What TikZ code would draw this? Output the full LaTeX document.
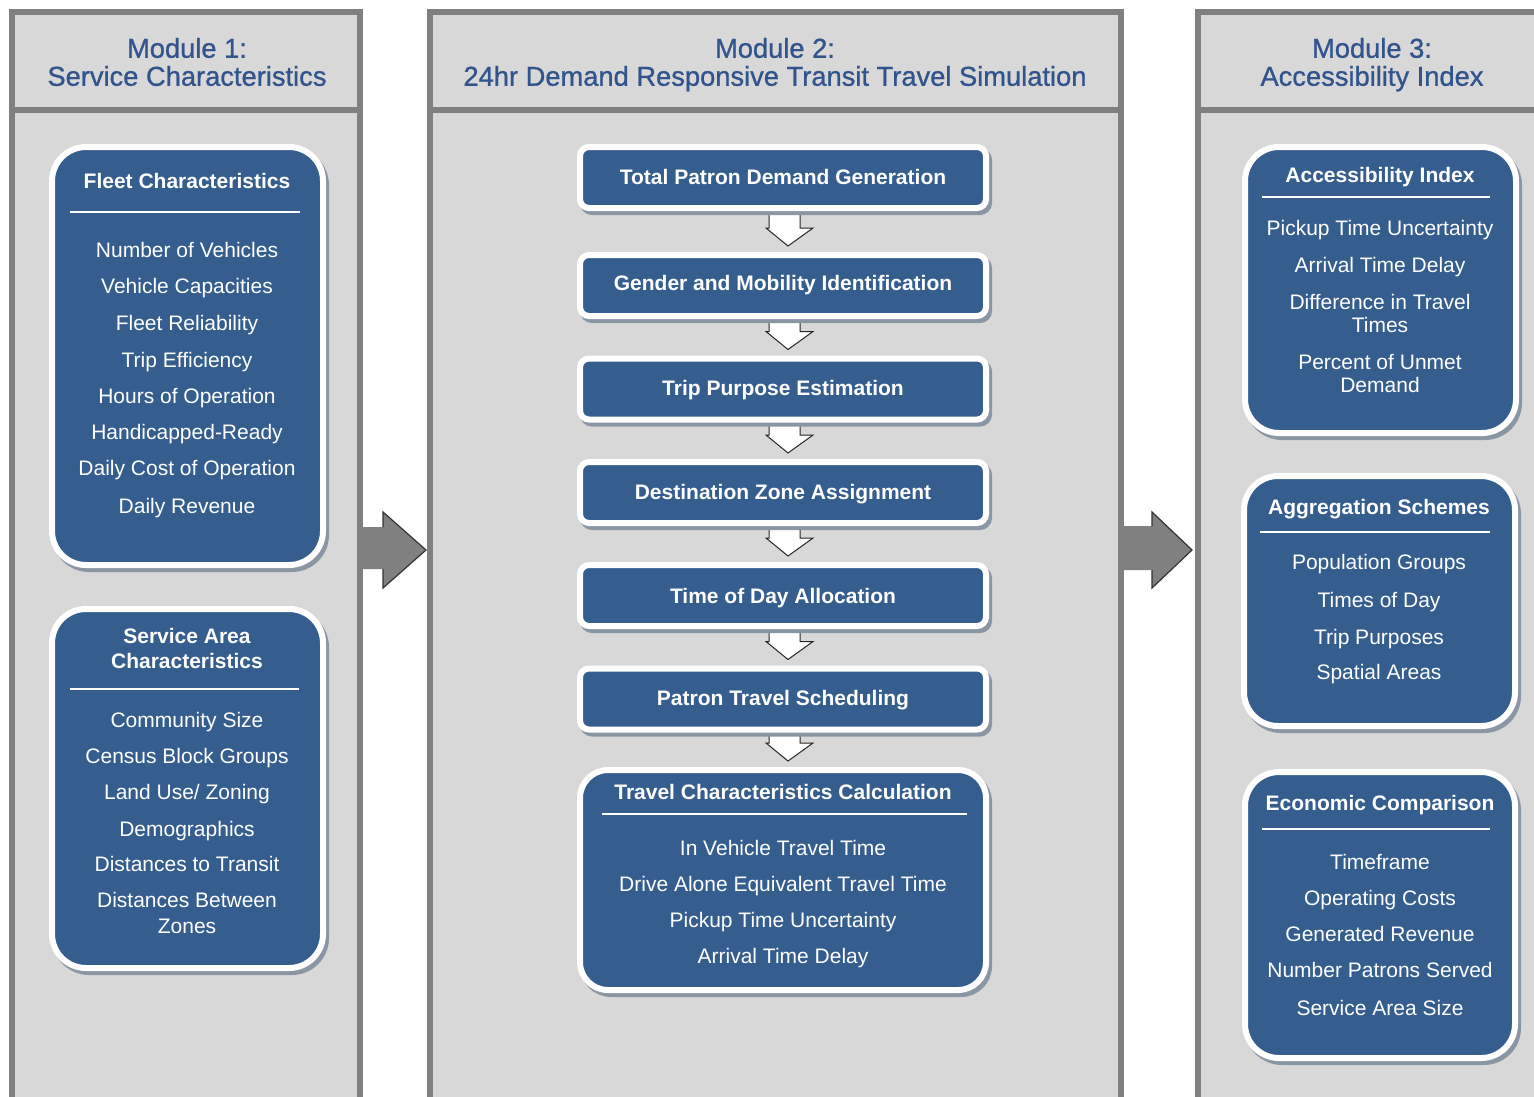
\documentclass[tikz,border=0pt]{standalone}
\usepackage{fontspec}
\setmainfont{Liberation Sans}
\newfontfamily\hdfont[FakeBold=0.9]{Liberation Sans}
\usetikzlibrary{calc}
\definecolor{boxblue}{RGB}{53,94,143}
\definecolor{hdblue}{RGB}{50,84,140}
\definecolor{panelfill}{RGB}{216,216,216}
\definecolor{panelline}{RGB}{128,128,128}
\definecolor{shadowc}{RGB}{138,150,164}
\definecolor{bigarrowc}{RGB}{128,128,128}
\pgfdeclarelayer{back}
\pgfdeclarelayer{mid}
\pgfsetlayers{back,mid,main}
\tikzset{
  panel/.style={draw=panelline, line width=6pt, fill=panelfill},
  hdtxt/.style={text=hdblue, font=\hdfont\fontsize{27.3}{31}\selectfont, inner sep=0pt, text height=19.5pt, text depth=0pt},
  bluebox/.style={rectangle, fill=boxblue, draw=white, line width=6pt, inner sep=0pt, outer sep=0pt,
    preaction={draw=shadowc, fill=shadowc, line width=6pt, transform canvas={shift={(3pt,-4pt)}}}},
  bigbox/.style={bluebox, rounded corners=34pt},
  calcbox/.style={bluebox, rounded corners=28pt},
  stepbox/.style={bluebox, rounded corners=9pt},
  ttl/.style={text=white, font=\fontsize{21}{25}\selectfont\bfseries, inner sep=0pt, text height=15pt, text depth=0pt},
  itm/.style={text=white, font=\fontsize{21}{25}\selectfont, inner sep=0pt, text height=15pt, text depth=0pt},
  sepline/.style={draw=white, line width=2pt},
  downarr/.style={fill=white, draw=black!85, line width=1pt, line join=miter},
  bigarr/.style={fill=bigarrowc},
  bigarrline/.style={draw=black!80, line width=1.2pt, line join=miter},
}
\newcommand\stepArrow[2]{%
  \begin{pgfonlayer}{mid}
  \draw[downarr] ($(#1.south)+(-14,0)$) -- ($(#2.north)+(-14,-27)$) -- ($(#2.north)+(-17,-27)$)
    -- ($(#2.north)+(5,-9)$) -- ($(#2.north)+(30,-27)$) -- ($(#2.north)+(17,-27)$) -- ($(#1.south)+(17,0)$);
  \end{pgfonlayer}}
\begin{document}
\begin{tikzpicture}[x=1pt,y=-1pt]
\useasboundingbox (0,0) rectangle (1534,1096);

% ---------- panels ----------
\begin{pgfonlayer}{back}
\fill[white] (0,0) rectangle (1534,1096);
\draw[panel] (12,12) rectangle (360,1104);
\draw[panel] (430,12) rectangle (1121,1104);
\draw[panel] (1198,12) rectangle (1550,1104);
\draw[draw=panelline, line width=6pt] (12,110) -- (360,110);
\draw[draw=panelline, line width=6pt] (430,110) -- (1121,110);
\draw[draw=panelline, line width=6pt] (1198,110) -- (1550,110);
\end{pgfonlayer}

% ---------- headers ----------
\node[hdtxt] (h1a) at (187,48) {Module 1:};
\node[hdtxt] (h1b) at (187,76) {Service Characteristics};
\node[hdtxt] (h2a) at (775,48) {Module 2:};
\node[hdtxt] (h2b) at (775,76) {24hr Demand Responsive Transit Travel Simulation};
\node[hdtxt] (h3a) at (1372,48) {Module 3:};
\node[hdtxt] (h3b) at (1372,76) {Accessibility Index};

% ---------- big arrows between modules ----------
\fill[bigarr] (363,527) -- (383,527) -- (383,512) -- (426,550) -- (383,588) -- (383,569) -- (363,569) -- cycle;
\draw[bigarrline] (383,527) -- (383,512) -- (426,550) -- (383,588) -- (383,569);
\fill[bigarr] (1124,526) -- (1152,526) -- (1152,512) -- (1192,550) -- (1152,588) -- (1152,570) -- (1124,570) -- cycle;
\draw[bigarrline] (1152,526) -- (1152,512) -- (1192,550) -- (1152,588) -- (1152,570);

% ---------- Module 1 ----------
\node[bigbox, minimum width=271pt, minimum height=418pt] (fleet) at (187.5,356) {};
\node[ttl] (fleett) at (187,181) {Fleet Characteristics};
\draw[sepline] (70,212) -- (300,212);
\node[itm] (f1) at (187,250) {Number of Vehicles};
\node[itm] (f2) at (187,286) {Vehicle Capacities};
\node[itm] (f3) at (187,323) {Fleet Reliability};
\node[itm] (f4) at (187,360) {Trip Efficiency};
\node[itm] (f5) at (187,396) {Hours of Operation};
\node[itm] (f6) at (187,432) {Handicapped-Ready};
\node[itm] (f7) at (187,468) {Daily Cost of Operation};
\node[itm] (f8) at (187,506) {Daily Revenue};

\node[bigbox, minimum width=271pt, minimum height=359pt] (area) at (187.5,788.5) {};
\node[ttl] (areat1) at (187,636) {Service Area};
\node[ttl] (areat2) at (187,661) {Characteristics};
\draw[sepline] (70,689) -- (299,689);
\node[itm] (a1) at (187,720) {Community Size};
\node[itm] (a2) at (187,756) {Census Block Groups};
\node[itm] (a3) at (187,792) {Land Use/ Zoning};
\node[itm] (a4) at (187,829) {Demographics};
\node[itm] (a5) at (187,864) {Distances to Transit};
\node[itm] (a6) at (187,900) {Distances Between};
\node[itm] (a7) at (187,926) {Zones};

% ---------- Module 2 ----------
\node[stepbox, minimum width=406pt, minimum height=61pt] (s1) at (783,177.5) {};
\node[ttl] (s1t) at (783,177) {Total Patron Demand Generation};
\node[stepbox, minimum width=406pt, minimum height=61pt] (s2) at (783,285.5) {};
\node[ttl] (s2t) at (783,283) {Gender and Mobility Identification};
\node[stepbox, minimum width=406pt, minimum height=61pt] (s3) at (783,389) {};
\node[ttl] (s3t) at (783,388) {Trip Purpose Estimation};
\node[stepbox, minimum width=406pt, minimum height=61pt] (s4) at (783,492.5) {};
\node[ttl] (s4t) at (783,492) {Destination Zone Assignment};
\node[stepbox, minimum width=406pt, minimum height=61pt] (s5) at (783,595.5) {};
\node[ttl] (s5t) at (783,596) {Time of Day Allocation};
\node[stepbox, minimum width=406pt, minimum height=61pt] (s6) at (783,699) {};
\node[ttl] (s6t) at (783,698) {Patron Travel Scheduling};

\node[calcbox, minimum width=406pt, minimum height=220pt] (s7) at (783,880) {};
\node[ttl] (s7t) at (783,792) {Travel Characteristics Calculation};
\draw[sepline] (602,814) -- (967,814);
\node[itm] (c1) at (783,848) {In Vehicle Travel Time};
\node[itm] (c2) at (783,884) {Drive Alone Equivalent Travel Time};
\node[itm] (c3) at (783,920) {Pickup Time Uncertainty};
\node[itm] (c4) at (783,956) {Arrival Time Delay};

\stepArrow{s1}{s2}
\stepArrow{s2}{s3}
\stepArrow{s3}{s4}
\stepArrow{s4}{s5}
\stepArrow{s5}{s6}
\stepArrow{s6}{s7}

% ---------- Module 3 ----------
\node[bigbox, minimum width=271pt, minimum height=286pt] (acc) at (1380.5,290) {};
\node[ttl] (acct) at (1380,175) {Accessibility Index};
\draw[sepline] (1262,197) -- (1490,197);
\node[itm] (x1) at (1380,228) {Pickup Time Uncertainty};
\node[itm] (x2) at (1380,265) {Arrival Time Delay};
\node[itm] (x3) at (1380,302) {Difference in Travel};
\node[itm] (x4) at (1380,325) {Times};
\node[itm] (x5) at (1380,362) {Percent of Unmet};
\node[itm] (x6) at (1380,385) {Demand};

\node[bigbox, minimum width=271pt, minimum height=250pt] (agg) at (1379.5,601) {};
\node[ttl] (aggt) at (1379,507) {Aggregation Schemes};
\draw[sepline] (1260,532) -- (1490,532);
\node[itm] (g1) at (1379,562) {Population Groups};
\node[itm] (g2) at (1379,600) {Times of Day};
\node[itm] (g3) at (1379,637) {Trip Purposes};
\node[itm] (g4) at (1379,672) {Spatial Areas};

\node[bigbox, minimum width=270pt, minimum height=286pt] (eco) at (1380,915) {};
\node[ttl] (ecot) at (1380,803) {Economic Comparison};
\draw[sepline] (1262,829) -- (1490,829);
\node[itm] (e1) at (1380,862) {Timeframe};
\node[itm] (e2) at (1380,898) {Operating Costs};
\node[itm] (e3) at (1380,934) {Generated Revenue};
\node[itm] (e4) at (1380,970) {Number Patrons Served};
\node[itm] (e5) at (1380,1008) {Service Area Size};
\end{tikzpicture}
\end{document}
